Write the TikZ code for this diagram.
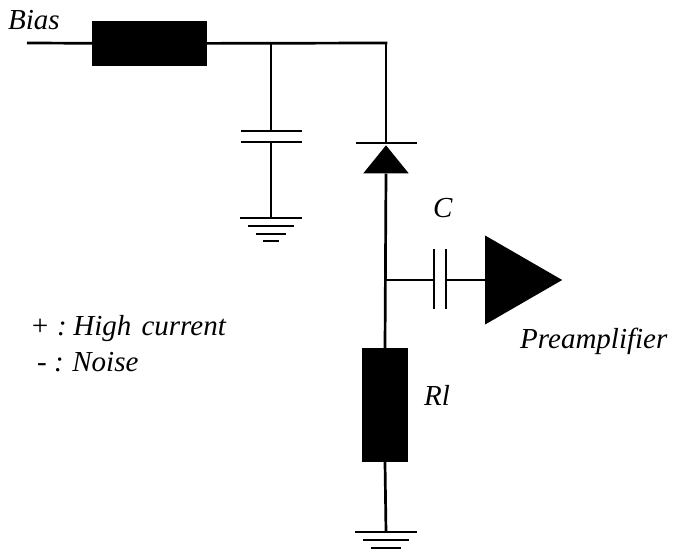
\documentclass[tikz,border=0pt]{standalone}
\usepackage{fontspec}
\setmainfont{Liberation Serif}
\usetikzlibrary{shapes.geometric}
\tikzset{
	wire/.style={line width=2.7pt},
	plate/.style={line width=2.7pt},
	res/.style={draw=none,fill=black,inner sep=0pt},
	lbl/.style={anchor=base west,inner sep=0pt,font=\fontsize{29}{32}\selectfont\itshape},
	gnd/.pic={
		\draw[plate] (-31,0) -- (31,0);
		\draw[plate] (-23,8) -- (23,8);
		\draw[plate] (-15,16) -- (15,16);
		\draw[plate] (-8,23) -- (8,23);
	}
}
\begin{document}
\begin{tikzpicture}[x=1pt,y=-1pt]
		\useasboundingbox (0,0) rectangle (673,554);
		% bias branch
		\coordinate (start) at (27,43);
		\coordinate (top) at (271,43);
		\coordinate (corner) at (386,43);
		\node[res,minimum width=115pt,minimum height=45pt] (rbias) at (149.5,43.5) {};
		\draw[wire] (start) -- (rbias);
		\draw[wire,line cap=rect] (rbias) -- (corner);
		% decoupling capacitor
		\coordinate (capa) at (271,131);
		\coordinate (capb) at (271,142);
		\coordinate (gnda) at (271,218);
		\draw[wire] (top) -- (capa);
		\draw[plate] (241,131) -- (302,131);
		\draw[plate] (241,142) -- (302,142);
		\draw[wire] (capb) -- (gnda);
		\pic at (gnda) {gnd};
		% diode
		\coordinate (bar) at (386,143);
		\node[res,isosceles triangle,shape border rotate=90,isosceles triangle apex angle=78,
			minimum height=28pt,anchor=apex] (diode) at (386,145) {};
		\draw[plate] (356,143) -- (417,143);
		\draw[wire] (corner) -- (bar);
		% load
		\node[res,minimum width=46pt,minimum height=114pt] (rload) at (385,405) {};
		\coordinate (tap) at (386,280);
		\coordinate (gndb) at (386,532);
		\draw[wire] (diode.south) -- (rload.north);
		\draw[wire] (rload.south) -- (gndb);
		\pic at (gndb) {gnd};
		% output
		\coordinate (cca) at (434,280);
		\coordinate (ccb) at (446,280);
		\node[res,isosceles triangle,isosceles triangle apex angle=60,
			minimum height=77pt,anchor=lower side] (preamp) at (485,280) {};
		\draw[wire] (tap) -- (cca);
		\draw[plate] (434,249) -- (434,309);
		\draw[plate] (446,249) -- (446,309);
		\draw[wire] (ccb) -- (preamp.lower side);
		% labels
		\node[lbl] (bias) at (8,30) {Bias};
		\node[lbl] (cval) at (433,217.5) {C};
		\node[lbl] (rlval) at (424,405) {Rl};
		\node[lbl] (pre) at (520,348) {Preamplifier};
		\node[lbl] (plus) at (30,335) {+ :\kern-3pt{} High\kern3pt{} current};
		\node[lbl] (minus) at (37,371) {- :\kern-1pt{} Noise};
	\end{tikzpicture}
\end{document}
